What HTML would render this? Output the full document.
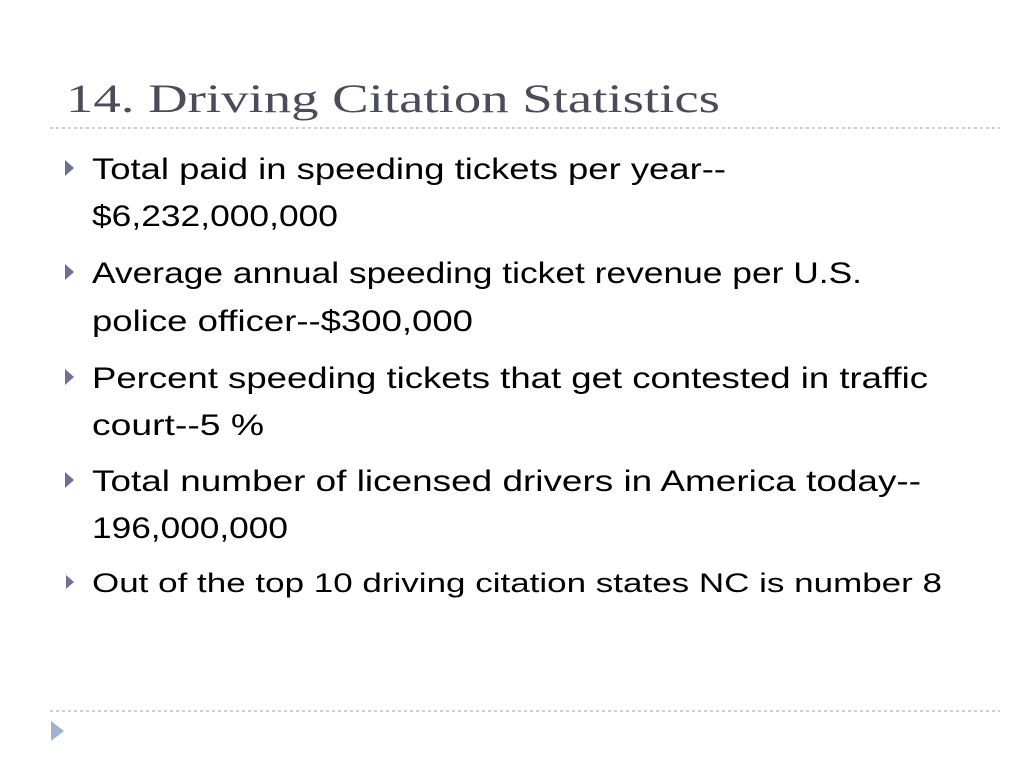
<!DOCTYPE html>
<html><head><meta charset="utf-8"><style>
html,body{margin:0;padding:0;background:#fff;}
svg{display:block;}
</style></head><body>
<svg width="1024" height="768" viewBox="0 0 1024 768">
<text x="66" y="112" font-family="Liberation Serif, serif" font-size="40" fill="#4b4b5c" textLength="654" lengthAdjust="spacingAndGlyphs">14. Driving Citation Statistics</text>
<line x1="50" y1="128" x2="1000" y2="128" stroke="#a9b4c4" stroke-width="1.2" stroke-dasharray="3,3"/>
<g font-family="Liberation Sans, sans-serif" fill="#000">
<polygon points="65,160 65,176 74,168" fill="#6b7199"/>
<text x="92" y="179" font-size="30" textLength="634" lengthAdjust="spacingAndGlyphs">Total paid in speeding tickets per year--</text>
<text x="92" y="226" font-size="30" textLength="246" lengthAdjust="spacingAndGlyphs">$6,232,000,000</text>
<polygon points="65,264 65,280 74,272" fill="#6b7199"/>
<text x="92" y="283" font-size="30" textLength="770" lengthAdjust="spacingAndGlyphs">Average annual speeding ticket revenue per U.S.</text>
<text x="92" y="331" font-size="30" textLength="381" lengthAdjust="spacingAndGlyphs">police officer--$300,000</text>
<polygon points="65,369 65,385 74,377" fill="#6b7199"/>
<text x="92" y="388" font-size="30" textLength="836" lengthAdjust="spacingAndGlyphs">Percent speeding tickets that get contested in traffic</text>
<text x="92" y="435" font-size="30" textLength="172" lengthAdjust="spacingAndGlyphs">court--5 %</text>
<polygon points="65,472 65,488 74,480" fill="#6b7199"/>
<text x="92" y="491" font-size="30" textLength="829" lengthAdjust="spacingAndGlyphs">Total number of licensed drivers in America today--</text>
<text x="92" y="538" font-size="30" textLength="196" lengthAdjust="spacingAndGlyphs">196,000,000</text>
<polygon points="66,575 66,589 74,582" fill="#6b7199"/>
<text x="92" y="592" font-size="27" textLength="850" lengthAdjust="spacingAndGlyphs">Out of the top 10 driving citation states NC is number 8</text>
</g>
<line x1="50" y1="711" x2="1000" y2="711" stroke="#a9b4c4" stroke-width="1.2" stroke-dasharray="3,3"/>
<polygon points="51,721 51,741 64,731" fill="#9fb2cc"/>
</svg>
</body></html>
